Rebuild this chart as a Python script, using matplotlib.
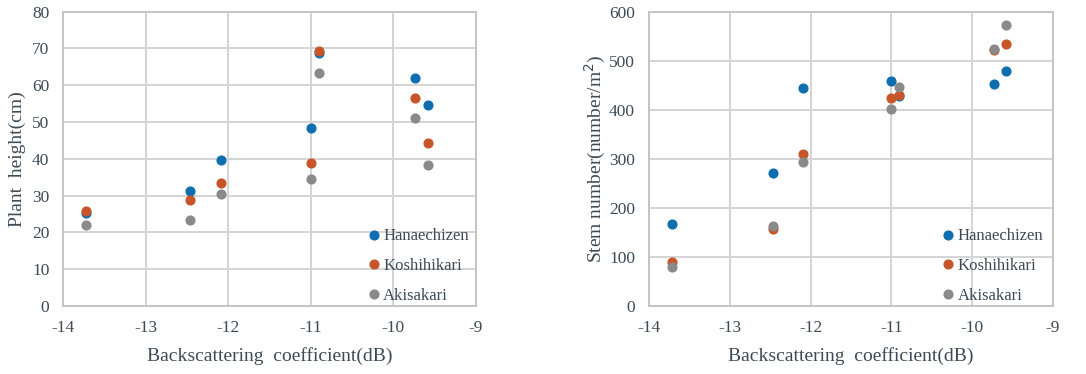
import matplotlib
matplotlib.use("Agg")
import matplotlib.pyplot as plt
from matplotlib.lines import Line2D

# Backscattering coefficient (dB) for each observation date
backscatter = [-13.72, -12.46, -12.09, -11.00, -10.90, -9.73, -9.58]

varieties = ["Hanaechizen", "Koshihikari", "Akisakari"]
colors = ["#0f6eb0", "#c8552a", "#8a8a8a"]

# Plant height (cm)
height_hanaechizen = [25.2, 31.2, 39.8, 48.3, 68.8, 62.1, 54.6]
height_koshihikari = [25.9, 28.8, 33.3, 39.0, 69.3, 56.4, 44.4]
height_akisakari = [22.0, 23.4, 30.5, 34.4, 63.2, 51.1, 38.3]

# Stem number (number/m^2)
stem_hanaechizen = [168, 272, 444, 458, 428, 452, 479]
stem_koshihikari = [89, 157, 309, 423, 431, 522, 535]
stem_akisakari = [80, 163, 293, 402, 447, 524, 572]

x_ticks = [-14, -13, -12, -11, -10, -9]
height_ticks = [0, 10, 20, 30, 40, 50, 60, 70, 80]
stem_ticks = [0, 100, 200, 300, 400, 500, 600]

text_color = "#3e4a55"
grid_color = "#d4d4d4"
plt.rcParams["font.family"] = ["Liberation Serif", "DejaVu Serif"]

fig = plt.figure(figsize=(10.86, 3.74), dpi=100)
ax1 = fig.add_axes([0.0583, 0.1818, 0.3797, 0.787])
ax2 = fig.add_axes([0.5976, 0.1818, 0.372, 0.787])


def draw(ax, series, yticks, ylabel, legend_x, ylabelpad):
    for vals, name, c in zip(series, varieties, colors):
        ax.plot(backscatter, vals, linestyle="none", marker="o", markersize=6.3,
                color=c, label=name, zorder=3)
    ax.set_xlim(x_ticks[0], x_ticks[-1])
    ax.set_ylim(yticks[0], yticks[-1])
    ax.set_xticks(x_ticks)
    ax.set_yticks(yticks)
    ax.set_xticklabels([str(t) for t in x_ticks])
    ax.grid(True, color=grid_color, linewidth=1.4)
    ax.set_axisbelow(True)
    for s in ax.spines.values():
        s.set_color("#c4c4c4")
        s.set_linewidth(1.4)
    ax.tick_params(axis="both", length=0, labelsize=12.5, colors=text_color)
    ax.tick_params(axis="x", pad=10)
    ax.tick_params(axis="y", pad=10)
    ax.set_xlabel("Backscattering  coefficient(dB)", fontsize=14, color=text_color, labelpad=8)
    ax.set_ylabel(ylabel, fontsize=14, color=text_color, labelpad=ylabelpad)
    handles = [Line2D([], [], linestyle="none", marker="o", markersize=6.3, color=c)
               for c in colors]
    ax.legend(handles, varieties, loc="lower left", bbox_to_anchor=(legend_x, -0.015),
              frameon=False, fontsize=12, labelcolor=text_color,
              handlelength=0.6, handletextpad=0.25, labelspacing=0.82,
              borderaxespad=0.0)


draw(ax1, [height_hanaechizen, height_koshihikari, height_akisakari],
     height_ticks, "Plant  height(cm)", 0.725, 4)
draw(ax2, [stem_hanaechizen, stem_koshihikari, stem_akisakari],
     stem_ticks, "Stem number(number/m$^2$)", 0.712, 1)

fig.savefig("out.png", dpi=100, facecolor="white")
